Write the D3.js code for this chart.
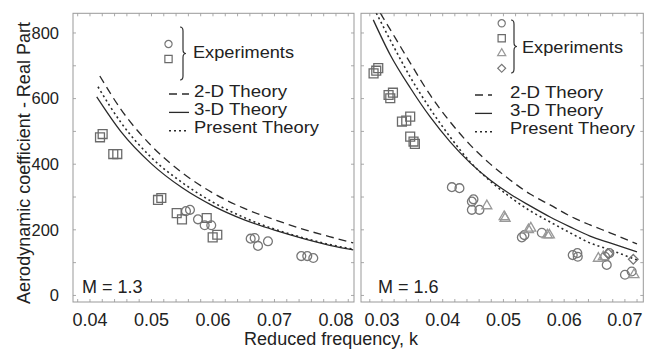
<!DOCTYPE html>
<html>
<head>
<meta charset="utf-8">
<script src="https://cdn.jsdelivr.net/npm/d3@7"></script>
<style>
  body { margin: 0; background: #fff; }
  svg { font-family: "Liberation Sans", Arial, sans-serif; }
  .tick-label { font-size: 18px; fill: #222; }
  .y-label { font-size: 16.5px; fill: #222; }
  .legend text { font-size: 16px; fill: #222; }
  .frame { fill: none; stroke: #999; stroke-width: 1; }
  .minor { stroke: #aaa; stroke-width: 1; }
</style>
</head>
<body>
<svg width="655" height="350"></svg>
<script>
// ---- data (k, real part) ----
// M = 1.3
const leftDashed = [[0.0416,669],[0.045,568],[0.05,456],[0.055,374],[0.06,312],[0.065,266],[0.07,231],[0.075,200],[0.08,174],[0.0828,160]]
const leftSolid = [[0.0411,605],[0.045,500],[0.05,401],[0.055,328],[0.06,273],[0.065,231],[0.07,199],[0.075,172],[0.08,149],[0.0828,139]]
const leftDotted = [[0.0413,636],[0.045,528],[0.05,420],[0.055,344],[0.06,284],[0.065,238],[0.07,202],[0.075,174],[0.08,151],[0.0828,141]]
const leftSquares = [[0.04163,482],[0.04206,492],[0.04379,431],[0.04444,431],[0.05106,291],[0.0516,297],[0.0541,251],[0.05496,232],[0.05898,236],[0.05995,177],[0.0607,185]]
const leftCircles = [[0.05561,257],[0.05626,261],[0.05756,232],[0.05865,214],[0.05972,214],[0.06613,173],[0.06678,175],[0.06732,151],[0.06894,165],[0.07436,120],[0.07533,120],[0.07631,114]]

// M = 1.6
const rightDashed = [[0.02972,861],[0.03219,785],[0.03465,709],[0.03794,611],[0.04123,529],[0.04452,459],[0.04781,401],[0.0511,352],[0.05439,309],[0.05768,276],[0.06097,242],[0.06426,215],[0.06755,191],[0.07199,157]]
const rightSolid = [[0.02857,840],[0.03137,733],[0.03465,633],[0.03794,544],[0.04123,468],[0.04452,404],[0.04781,352],[0.0511,309],[0.05439,273],[0.05768,239],[0.06097,209],[0.06426,181],[0.06755,160],[0.07199,133]]
const rightDotted = [[0.02906,861],[0.03169,767],[0.03465,666],[0.03794,569],[0.04123,483],[0.04452,407],[0.04781,349],[0.0511,300],[0.05439,258],[0.05768,224],[0.06097,191],[0.06426,160],[0.06755,139],[0.07199,108]]
const rightSquares = [[0.02862,677],[0.02906,685],[0.02939,693],[0.03109,611],[0.03137,601],[0.03181,618],[0.03329,530],[0.034,533],[0.03465,545],[0.03465,484],[0.0352,469],[0.03542,462]]
const rightCircles = [[0.04151,330],[0.04276,327],[0.0448,286],[0.04507,293],[0.0448,261],[0.04605,261],[0.05303,177],[0.05345,184],[0.05632,191],[0.06141,123],[0.06217,129],[0.06224,118],[0.06673,118],[0.06744,129],[0.06701,93],[0.07001,63],[0.07112,73]]
const rightTriangles = [[0.04727,273],[0.05012,240],[0.05028,235],[0.05412,200],[0.05451,205],[0.05724,184],[0.05757,184],[0.06563,113],[0.06645,118],[0.0715,63]]
const rightDiamonds = [[0.07138,110],[0.06727,127]]

const leftXTicks = [0.04, 0.05, 0.06, 0.07, 0.08]
const rightXTicks = [0.03, 0.04, 0.05, 0.06, 0.07]
const yTicks = [0, 200, 400, 600, 800]
const lineLabels = ["2-D Theory", "3-D Theory", "Present Theory"]

const svg = d3.select("svg")
const plotTop = 13.3, plotBottom = 302

// shared y scale for both panels
const y = d3.scaleLinear().domain([-20, 860]).range([plotBottom, plotTop])

// legend text is stretched a little to the width it has in the figure
const legendWidths = { "Experiments": 101, "2-D Theory": 93, "3-D Theory": 93, "Present Theory": 125 }

const panels = [
  { id: "p1", left: 73, right: 354, domain: [0.03724, 0.08293], xTicks: leftXTicks, mach: "M = 1.3", machX: 82,
    lines: [leftDashed, leftSolid, leftDotted],
    markers: [["circle", leftCircles], ["square", leftSquares]],
    legend: { mx: 168.5, my0: 44, bx: 182, by0: 27, by1: 80, tx: 193, ty: 52, lx0: 169, lx1: 189, lty: 91, ltx: 194 } },
  { id: "p2", left: 361, right: 643.3, domain: [0.02655, 0.07303], xTicks: rightXTicks, mach: "M = 1.6", machX: 378,
    lines: [rightDashed, rightSolid, rightDotted],
    markers: [["circle", rightCircles], ["square", rightSquares], ["triangle", rightTriangles], ["diamond", rightDiamonds]],
    legend: { mx: 501.7, my0: 23.3, bx: 513, by0: 20, by1: 73, tx: 522, ty: 47, lx0: 475, lx1: 492, lty: 92, ltx: 510 } }
]

const dashes = ["8,5", null, "2,3"]
const markerColor = { circle: "#777", square: "#6a6a6a", triangle: "#999", diamond: "#777" }

function markerPath(type, size) {
  if (type == "circle") return d3.symbol(d3.symbolCircle, size * 3.4)()
  if (type == "square") return d3.symbol(d3.symbolSquare, size * 4.4)()
  if (type == "triangle") return d3.symbol(d3.symbolTriangle, size * 2.4)()
  return d3.symbol(d3.symbolSquare, size * 2.6)()
}

panels.forEach(p => {
  const x = d3.scaleLinear().domain(p.domain).range([p.left, p.right])
  const g = svg.append("g")

  svg.append("clipPath").attr("id", "clip-" + p.id)
    .append("rect")
    .attr("x", p.left).attr("y", plotTop)
    .attr("width", p.right - p.left).attr("height", plotBottom - plotTop)

  // minor ticks, inward, on all four sides
  const minorX = d3.range(Math.ceil(p.domain[0] / 0.002) * 0.002, p.domain[1], 0.002)
  g.selectAll(".mxb").data(minorX).enter().append("line").attr("class", "minor")
    .attr("x1", d => x(d)).attr("x2", d => x(d)).attr("y1", plotBottom).attr("y2", plotBottom - 3)
  g.selectAll(".mxt").data(minorX).enter().append("line").attr("class", "minor")
    .attr("x1", d => x(d)).attr("x2", d => x(d)).attr("y1", plotTop).attr("y2", plotTop + 3)
  const minorY = d3.range(0, 860, 100)
  g.selectAll(".myl").data(minorY).enter().append("line").attr("class", "minor")
    .attr("x1", p.left).attr("x2", p.left + 3).attr("y1", d => y(d)).attr("y2", d => y(d))
  g.selectAll(".myr").data(minorY).enter().append("line").attr("class", "minor")
    .attr("x1", p.right).attr("x2", p.right - 3).attr("y1", d => y(d)).attr("y2", d => y(d))

  g.append("rect").attr("class", "frame")
    .attr("x", p.left).attr("y", plotTop)
    .attr("width", p.right - p.left).attr("height", plotBottom - plotTop)

  // x tick labels
  g.selectAll(".xl").data(p.xTicks).enter().append("text")
    .attr("class", "tick-label")
    .attr("x", d => x(d)).attr("y", 326)
    .attr("text-anchor", "middle")
    .text(d => d.toFixed(2))

  // theory curves
  const line = d3.line()
    .x(d => x(d[0]))
    .y(d => y(d[1]))
    .curve(d3.curveMonotoneX)

  const plot = g.append("g").attr("clip-path", "url(#clip-" + p.id + ")")
  p.lines.forEach((data, i) => {
    plot.append("path")
      .datum(data)
      .attr("fill", "none")
      .attr("stroke", "#2a2a2a")
      .attr("stroke-width", i == 2 ? 1.6 : 1.3)
      .attr("stroke-dasharray", dashes[i])
      .attr("d", line)
  })

  // experimental points
  p.markers.forEach(([type, pts]) => {
    plot.selectAll(".pt-" + type).data(pts).enter().append("path")
      .attr("d", markerPath(type, 18))
      .attr("transform", d => "translate(" + x(d[0]) + "," + y(d[1]) + ")" + (type == "diamond" ? " rotate(45)" : ""))
      .attr("fill", "none")
      .attr("stroke", markerColor[type])
      .attr("stroke-width", 1.3)
  })

  g.append("text").attr("class", "tick-label")
    .attr("x", p.machX).attr("y", 293)
    .text(p.mach)

  // legend
  const L = p.legend
  const lg = g.append("g").attr("class", "legend")
  p.markers.forEach(([type], i) => {
    lg.append("path")
      .attr("d", markerPath(type, 12))
      .attr("transform", "translate(" + L.mx + "," + (L.my0 + i * 15) + ")" + (type == "diamond" ? " rotate(45)" : ""))
      .attr("fill", "none")
      .attr("stroke", markerColor[type])
      .attr("stroke-width", 1.2)
  })
  const bm = (L.by0 + L.by1) / 2
  lg.append("path")
    .attr("d", `M${L.bx - 2},${L.by0} Q${L.bx + 1},${L.by0} ${L.bx + 1},${L.by0 + 4} L${L.bx + 1},${bm - 4} Q${L.bx + 1},${bm} ${L.bx + 4},${bm} Q${L.bx + 1},${bm} ${L.bx + 1},${bm + 4} L${L.bx + 1},${L.by1 - 4} Q${L.bx + 1},${L.by1} ${L.bx - 2},${L.by1}`)
    .attr("fill", "none").attr("stroke", "#333").attr("stroke-width", 1.2)
  lg.append("text").attr("x", L.tx).attr("y", L.ty).attr("dy", "0.35em")
    .attr("textLength", legendWidths["Experiments"]).attr("lengthAdjust", "spacingAndGlyphs")
    .text("Experiments")

  lineLabels.forEach((t, i) => {
    const ly = L.lty + i * 18.4
    lg.append("line")
      .attr("x1", L.lx0).attr("x2", L.lx1)
      .attr("y1", ly + 3).attr("y2", ly + 3)
      .attr("stroke", "#2a2a2a")
      .attr("stroke-width", i == 2 ? 1.6 : 1.3)
      .attr("stroke-dasharray", dashes[i])
    lg.append("text").attr("x", L.ltx).attr("y", ly).attr("dy", "0.35em")
      .attr("textLength", legendWidths[t]).attr("lengthAdjust", "spacingAndGlyphs")
      .text(t)
  })
})

// y tick labels (left panel only)
svg.selectAll(".yl").data(yTicks).enter().append("text")
  .attr("class", "y-label")
  .attr("x", 59).attr("y", d => y(d))
  .attr("dy", "0.35em")
  .attr("text-anchor", "end")
  .text(d => d)

// axis titles
svg.append("text").attr("class", "tick-label")
  .attr("x", 331).attr("y", 345)
  .attr("text-anchor", "middle")
  .text("Reduced frequency, k")

svg.append("text").attr("class", "tick-label")
  .attr("transform", "translate(30,163) rotate(-90)")
  .attr("text-anchor", "middle")
  .text("Aerodynamic coefficient - Real Part")
</script>
</body>
</html>
